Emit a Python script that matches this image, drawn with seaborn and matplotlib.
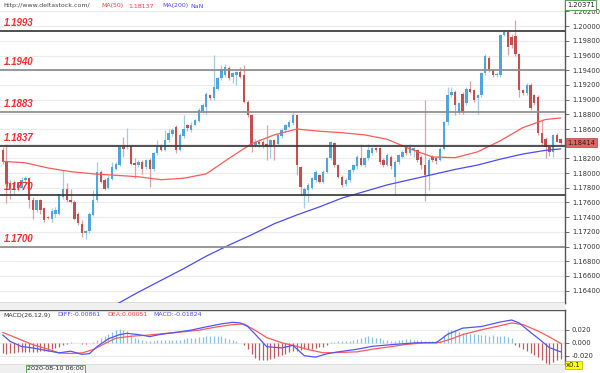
import matplotlib
matplotlib.use("Agg")
import matplotlib.pyplot as plt
import matplotlib.transforms as mtransforms
from matplotlib.patches import Rectangle
import numpy as np
import pandas as pd
import seaborn as sns

# ---------------- data ----------------
opens = [1.1831, 1.1815, 1.1786, 1.1779, 1.1786, 1.1780, 1.1791, 1.1794, 1.1763, 1.1750,
         1.1763, 1.1752, 1.1740, 1.1738, 1.1744, 1.1745, 1.1768, 1.1778, 1.1764, 1.1761,
         1.1745, 1.1731, 1.1718, 1.1721, 1.1743, 1.1763, 1.1802, 1.1791, 1.1780, 1.1792,
         1.1806, 1.1811, 1.1836, 1.1835, 1.1837, 1.1814, 1.1811, 1.1815, 1.1808, 1.1818,
         1.1806, 1.1827, 1.1837, 1.1832, 1.1845, 1.1853, 1.1863, 1.1832, 1.1850, 1.1865,
         1.1858, 1.1866, 1.1871, 1.1884, 1.1890, 1.1906, 1.1902, 1.1915, 1.1929, 1.1933,
         1.1943, 1.1931, 1.1933, 1.1938, 1.1933, 1.1897, 1.1879, 1.1838, 1.1843, 1.1842,
         1.1840, 1.1836, 1.1845, 1.1839, 1.1850, 1.1858, 1.1863, 1.1868, 1.1879, 1.1808,
         1.1770, 1.1777, 1.1780, 1.1790, 1.1797, 1.1788, 1.1802, 1.1820, 1.1841, 1.1811,
         1.1795, 1.1785, 1.1790, 1.1804, 1.1809, 1.1821, 1.1811, 1.1820, 1.1827, 1.1834,
         1.1834, 1.1818, 1.1811, 1.1822, 1.1795, 1.1815, 1.1822, 1.1836, 1.1827, 1.1832,
         1.1831, 1.1822, 1.1811, 1.1797, 1.1822, 1.1820, 1.1818, 1.1833, 1.1869, 1.1906,
         1.1911, 1.1882, 1.1908, 1.1895, 1.1915, 1.1913, 1.1902, 1.1906, 1.1936, 1.1957,
         1.1940, 1.1933, 1.1933, 1.1988, 1.1992, 1.1985, 1.1986, 1.1962, 1.1913, 1.1909,
         1.1920, 1.1906, 1.1904, 1.1854, 1.1847, 1.1836, 1.1829, 1.1852, 1.1846]
highs = [1.1836, 1.1840, 1.1790, 1.1790, 1.1788, 1.1795, 1.1796, 1.1795, 1.1768, 1.1764,
         1.1765, 1.1754, 1.1742, 1.1752, 1.1754, 1.1772, 1.1804, 1.1786, 1.1779, 1.1763,
         1.1747, 1.1736, 1.1722, 1.1747, 1.1777, 1.1815, 1.1804, 1.1793, 1.1797, 1.1815,
         1.1815, 1.1838, 1.1849, 1.1861, 1.1838, 1.1820, 1.1818, 1.1818, 1.1819, 1.1820,
         1.1829, 1.1845, 1.1839, 1.1858, 1.1860, 1.1861, 1.1865, 1.1855, 1.1879, 1.1867,
         1.1869, 1.1874, 1.1888, 1.1895, 1.1910, 1.1908, 1.1961, 1.1931, 1.1947, 1.1949,
         1.1946, 1.1938, 1.1939, 1.1945, 1.1947, 1.1899, 1.1881, 1.1847, 1.1846, 1.1845,
         1.1865, 1.1847, 1.1847, 1.1854, 1.1861, 1.1867, 1.1872, 1.1884, 1.1881, 1.1810,
         1.1781, 1.1786, 1.1795, 1.1804, 1.1799, 1.1804, 1.1822, 1.1844, 1.1843, 1.1813,
         1.1797, 1.1793, 1.1806, 1.1813, 1.1824, 1.1840, 1.1822, 1.1840, 1.1836, 1.1836,
         1.1836, 1.1820, 1.1827, 1.1824, 1.1818, 1.1826, 1.1831, 1.1838, 1.1840, 1.1836,
         1.1833, 1.1824, 1.1899, 1.1820, 1.1824, 1.1822, 1.1836, 1.1871, 1.1917, 1.1917,
         1.1913, 1.1897, 1.1910, 1.1917, 1.1926, 1.1915, 1.1908, 1.1938, 1.1962, 1.1959,
         1.1942, 1.1937, 1.1989, 1.1995, 1.1995, 1.1990, 1.2009, 1.1964, 1.1915, 1.1922,
         1.1922, 1.1908, 1.1906, 1.1874, 1.1849, 1.1838, 1.1853, 1.1854, 1.1848]
lows = [1.1813, 1.1759, 1.1765, 1.1770, 1.1775, 1.1777, 1.1786, 1.1752, 1.1738, 1.1747,
        1.1745, 1.1734, 1.1738, 1.1733, 1.1740, 1.1743, 1.1765, 1.1761, 1.1759, 1.1736,
        1.1729, 1.1713, 1.1710, 1.1719, 1.1741, 1.1761, 1.1786, 1.1777, 1.1778, 1.1790,
        1.1804, 1.1809, 1.1822, 1.1833, 1.1811, 1.1793, 1.1808, 1.1799, 1.1806, 1.1781,
        1.1803, 1.1824, 1.1830, 1.1830, 1.1843, 1.1851, 1.1827, 1.1830, 1.1848, 1.1857,
        1.1856, 1.1865, 1.1869, 1.1882, 1.1881, 1.1900, 1.1900, 1.1913, 1.1927, 1.1931,
        1.1927, 1.1922, 1.1920, 1.1929, 1.1895, 1.1876, 1.1829, 1.1835, 1.1836, 1.1834,
        1.1818, 1.1820, 1.1818, 1.1837, 1.1848, 1.1856, 1.1861, 1.1866, 1.1797, 1.1770,
        1.1752, 1.1761, 1.1778, 1.1788, 1.1786, 1.1786, 1.1800, 1.1818, 1.1808, 1.1793,
        1.1781, 1.1783, 1.1788, 1.1802, 1.1806, 1.1809, 1.1808, 1.1818, 1.1825, 1.1829,
        1.1813, 1.1808, 1.1809, 1.1806, 1.1770, 1.1813, 1.1820, 1.1825, 1.1825, 1.1822,
        1.1815, 1.1805, 1.1762, 1.1777, 1.1815, 1.1812, 1.1816, 1.1831, 1.1866, 1.1904,
        1.1879, 1.1880, 1.1881, 1.1893, 1.1909, 1.1897, 1.1881, 1.1904, 1.1934, 1.1938,
        1.1931, 1.1931, 1.1931, 1.1986, 1.1961, 1.1970, 1.1960, 1.1904, 1.1906, 1.1906,
        1.1886, 1.1893, 1.1852, 1.1838, 1.1820, 1.1823, 1.1822, 1.1842, 1.1838]
closes = [1.1815, 1.1786, 1.1779, 1.1786, 1.1780, 1.1791, 1.1794, 1.1763, 1.1750, 1.1763,
          1.1750, 1.1736, 1.1739, 1.1749, 1.1750, 1.1770, 1.1778, 1.1763, 1.1761, 1.1738,
          1.1732, 1.1718, 1.1721, 1.1745, 1.1764, 1.1802, 1.1788, 1.1779, 1.1793, 1.1808,
          1.1813, 1.1836, 1.1833, 1.1837, 1.1813, 1.1811, 1.1815, 1.1806, 1.1818, 1.1806,
          1.1827, 1.1836, 1.1832, 1.1845, 1.1854, 1.1858, 1.1831, 1.1852, 1.1860, 1.1861,
          1.1866, 1.1872, 1.1886, 1.1893, 1.1908, 1.1902, 1.1917, 1.1929, 1.1942, 1.1945,
          1.1929, 1.1936, 1.1938, 1.1931, 1.1897, 1.1879, 1.1838, 1.1843, 1.1839, 1.1838,
          1.1836, 1.1845, 1.1838, 1.1852, 1.1859, 1.1865, 1.1870, 1.1879, 1.1811, 1.1781,
          1.1779, 1.1784, 1.1793, 1.1802, 1.1788, 1.1802, 1.1820, 1.1843, 1.1811, 1.1795,
          1.1784, 1.1791, 1.1804, 1.1811, 1.1822, 1.1811, 1.1820, 1.1831, 1.1834, 1.1831,
          1.1815, 1.1811, 1.1824, 1.1809, 1.1815, 1.1824, 1.1829, 1.1827, 1.1836, 1.1834,
          1.1818, 1.1811, 1.1797, 1.1818, 1.1818, 1.1816, 1.1833, 1.1869, 1.1906, 1.1911,
          1.1893, 1.1895, 1.1883, 1.1915, 1.1911, 1.1899, 1.1906, 1.1936, 1.1960, 1.1940,
          1.1933, 1.1935, 1.1988, 1.1992, 1.1971, 1.1975, 1.1962, 1.1913, 1.1909, 1.1920,
          1.1888, 1.1895, 1.1854, 1.1841, 1.1836, 1.1829, 1.1852, 1.1843, 1.18414]

ma50_idx = [0, 6, 12, 18, 24, 30, 36, 42, 48, 54, 60, 66, 72, 78, 84, 90, 96, 102, 108,
            114, 120, 126, 132, 138, 144, 148]
ma50 = [1.1816, 1.1814, 1.1807, 1.1802, 1.1799, 1.1797, 1.1795, 1.1791, 1.1793, 1.1799,
        1.1820, 1.1840, 1.1852, 1.1860, 1.1857, 1.1855, 1.1852, 1.1846, 1.1833, 1.1822,
        1.1821, 1.1829, 1.1844, 1.1862, 1.1873, 1.1875]
ma200_idx = [30, 36, 42, 48, 54, 60, 66, 72, 78, 84, 90, 96, 102, 108, 114, 120, 126, 132,
             138, 144, 148]
ma200 = [1.1621, 1.1638, 1.1654, 1.1670, 1.1687, 1.1702, 1.1716, 1.1731, 1.1743, 1.1754,
         1.1766, 1.1775, 1.1784, 1.1791, 1.1798, 1.1805, 1.1811, 1.1819, 1.1826, 1.1831,
         1.1833]

levels = [1.1993, 1.1940, 1.1883, 1.1837, 1.1770, 1.1700]
level_labels = ["1.1993", "1.1940", "1.1883", "1.1837", "1.1770", "1.1700"]

diff_idx = [0, 2, 5, 8, 12, 15, 18, 21, 23, 25, 28, 31, 33, 36, 39, 42, 46, 50, 54, 58, 61,
            63, 65, 67, 70, 74, 77, 80, 83, 86, 89, 94, 98, 104, 110, 115, 118, 122, 127,
            132, 135, 137, 140, 142, 145, 148]
diff = [0.0120, 0.0020, -0.0058, -0.0080, -0.0125, -0.0155, -0.0130, -0.0178, -0.0168,
        -0.0060, 0.0060, 0.0125, 0.0145, 0.0125, 0.0095, 0.0130, 0.0160, 0.0195, 0.0245,
        0.0290, 0.0315, 0.0305, 0.0250, 0.0130, -0.0060, -0.0080, -0.0040, -0.0200, -0.0222,
        -0.0170, -0.0140, -0.0100, -0.0055, -0.0025, 0.0000, 0.0000, 0.0130, 0.0225, 0.0250,
        0.0320, 0.0350, 0.0305, 0.0160, 0.0070, -0.0075, -0.0140]
dea_idx = [0, 4, 8, 12, 15, 18, 21, 24, 27, 30, 34, 39, 44, 48, 52, 57, 61, 64, 67, 70, 74,
           78, 81, 85, 89, 94, 98, 103, 107, 112, 116, 119, 122, 127, 131, 135, 138, 142,
           145, 148]
dea = [0.0160, 0.0065, -0.0030, -0.0100, -0.0158, -0.0165, -0.0157, -0.0105, -0.0015,
       0.0070, 0.0100, 0.0120, 0.0148, 0.0170, 0.0193, 0.0246, 0.0280, 0.0290, 0.0190,
       0.0080, 0.0000, -0.0055, -0.0105, -0.0155, -0.0150, -0.0140, -0.0100, -0.0060,
       -0.0025, 0.0000, 0.0005, 0.0060, 0.0125, 0.0200, 0.0250, 0.0305, 0.0280, 0.0180,
       0.0090, -0.0010]
macd_hist = [-0.016, -0.017, -0.016, -0.016, -0.015, -0.015, -0.014, -0.015, -0.015, -0.014,
             -0.013, -0.013, -0.012, -0.010, -0.008, -0.006,
             -0.004, -0.002, 0.001, 0.000, -0.001, -0.002, -0.002, -0.001, 0.001,
             0.004, 0.007, 0.010, 0.013, 0.016, 0.019, 0.021, 0.020, 0.018, 0.012, 0.008,
             0.006, 0.004, 0.003, 0.002,
             0.003, 0.004, 0.004, 0.005, 0.005, 0.004, 0.004, 0.005, 0.006, 0.007,
             0.008, 0.008, 0.009, 0.009, 0.010, 0.010, 0.011, 0.011, 0.010, 0.008, 0.006,
             0.004, 0.002, 0.000, -0.004, -0.010,
             -0.018, -0.024, -0.027, -0.027, -0.026, -0.025, -0.023, -0.021, -0.019, -0.017,
             -0.015, -0.013, -0.012, -0.011, -0.010, -0.010, -0.009, -0.008, -0.007, -0.006,
             -0.004,
             0.001, 0.001, 0.002, 0.002, 0.003, 0.002, 0.004, 0.006, 0.008,
             0.009, 0.010, 0.009, 0.008, 0.007, 0.005, 0.004, 0.003,
             0.003, 0.004, 0.005, 0.006, 0.006, 0.005, 0.004, 0.004, 0.003, 0.002, 0.002,
             0.002, 0.003,
             0.012, 0.018, 0.020, 0.019, 0.017, 0.015, 0.015, 0.014, 0.013, 0.013, 0.012,
             0.012, 0.011, 0.012, 0.011, 0.010, 0.010, 0.009, 0.007,
             -0.004, -0.006, -0.010, -0.013, -0.016, -0.019, -0.022, -0.026, -0.031, -0.032,
             -0.029, -0.027, -0.025]

price_ticks = [1.164, 1.166, 1.168, 1.170, 1.172, 1.174, 1.176, 1.178, 1.180, 1.182,
               1.184, 1.186, 1.188, 1.190, 1.192, 1.194, 1.196, 1.198, 1.200, 1.202]
macd_ticks = [-0.02, 0.0, 0.02]
last_price_label = "1.18414"
top_price_label = "1.20371"

# ---------------- styling ----------------
sns.set_style("white")
plt.rcParams['font.family'] = ['DejaVu Sans']

W, H = 600, 373
fig = plt.figure(figsize=(6.0, 3.73), dpi=100)
fig.patch.set_facecolor("white")

def fy(px):  # pixel row -> figure fraction
    return 1 - px / H

right_px = 565
axw = right_px / W
main_top, main_bot = 0, 303.3
macd_top, macd_bot = 309.5, 364.5

ax = fig.add_axes([0, fy(main_bot), axw, (main_bot - main_top) / H])
axm = fig.add_axes([0, fy(macd_bot), axw, (macd_bot - macd_top) / H])

df = pd.DataFrame({"o": opens, "h": highs, "l": lows, "c": closes})
df["i"] = np.arange(len(df))
up = df["c"] >= df["o"]

UP_BODY, UP_WICK = "#4ea6dc", "#9fcdea"
DN_BODY, DN_WICK = "#c4504e", "#e2a2a2"

# grid
for t in price_ticks:
    ax.axhline(t, color="#ebebeb", lw=0.8, zorder=0)

# candles
ax.vlines(df["i"], df["l"], df["h"], colors=np.where(up, UP_WICK, DN_WICK), lw=0.9, zorder=2)
body = (df["c"] - df["o"]).abs().clip(lower=0.00004)
bottom = df[["o", "c"]].min(axis=1)
ax.bar(df["i"], body, bottom=bottom, width=0.64,
       color=np.where(up, UP_BODY, DN_BODY), linewidth=0, zorder=3)

# moving averages
sns.lineplot(x=ma50_idx, y=ma50, ax=ax, color="#ff5a5a", lw=0.9, zorder=4)
sns.lineplot(x=ma200_idx, y=ma200, ax=ax, color="#4b4bff", lw=0.9, zorder=4)

# levels
trans = mtransforms.blended_transform_factory(ax.transAxes, ax.transData)
lvl_colors = ["#3a3a3a", "#8c8c8c", "#8c8c8c", "#3a3a3a", "#3a3a3a", "#8c8c8c"]
for lv, lab, c in zip(levels, level_labels, lvl_colors):
    ax.axhline(lv, color=c, lw=1.25, zorder=5)
    ax.annotate(lab, xy=(0.006, lv), xycoords=trans, xytext=(0, 2.2),
                textcoords="offset points", va="bottom", ha="left",
                color="#ff2a2a", fontsize=7, fontweight="bold", fontstyle="italic",
                family="Liberation Sans", zorder=6)

ax.set_xlim(-0.72, 149.15)
ax.set_ylim(1.16228, 1.20356)
ax.yaxis.tick_right()
ax.set_yticks(price_ticks)
# the 1.18400 label is covered by the current-price box in the reference
ax.set_yticklabels(["" if abs(t - 1.184) < 1e-9 else f"{t:.5f}" for t in price_ticks])
ax.tick_params(axis="y", length=3, width=0.6, color="#555555", labelsize=4.9,
               labelcolor="#333333", pad=2)
ax.set_xticks([])
for s in ["left", "top"]:
    ax.spines[s].set_visible(False)
for s in ["right", "bottom"]:
    ax.spines[s].set_color("#555555")
    ax.spines[s].set_linewidth(1.0)

# header texts
hy = 1 - 6 / (main_bot - main_top)
ax.text(3 / right_px, hy, "http://www.deltastock.com/", transform=ax.transAxes,
        fontsize=4.5, color="#444444", va="center")
ax.text(101 / right_px, hy, "MA(50)", transform=ax.transAxes, fontsize=4.5,
        color="#ff3b3b", va="center")
ax.text(128 / right_px, hy, "1.18137", transform=ax.transAxes, fontsize=4.5,
        color="#ff3b3b", va="center")
ax.text(162 / right_px, hy, "MA(200)", transform=ax.transAxes, fontsize=4.5,
        color="#4b4bff", va="center")
ax.text(190 / right_px, hy, "NaN", transform=ax.transAxes, fontsize=4.5,
        color="#4b4bff", va="center")

# current price box
ax.text(1.004, closes[-1], last_price_label, transform=trans, fontsize=4.9,
        color="#222222", va="center", ha="left", clip_on=False, zorder=10,
        bbox=dict(boxstyle="square,pad=0.25", fc="#e06464", ec="#b84040", lw=0.5))
# top label
fig.text(567 / W, fy(5), top_price_label, fontsize=4.9, color="#222222", va="center",
         ha="left", bbox=dict(boxstyle="square,pad=0.25", fc="white", ec="#3c9a3c", lw=0.6))

# ---------------- MACD panel ----------------
for t in macd_ticks:
    axm.axhline(t, color="#ebebeb", lw=0.8, zorder=0)
hist = np.array(macd_hist)
axm.vlines(np.arange(len(hist)), 0, hist,
           colors=np.where(hist >= 0, "#86c3e6", "#c45a5a"), lw=0.9, zorder=2)
sns.lineplot(x=dea_idx, y=dea, ax=axm, color="#ff5a5a", lw=0.9, zorder=3)
sns.lineplot(x=diff_idx, y=diff, ax=axm, color="#5454ff", lw=0.9, zorder=4)
axm.set_xlim(-0.72, 149.15)
axm.set_ylim(-0.0335, 0.0512)
axm.yaxis.tick_right()
axm.set_yticks(macd_ticks)
axm.set_yticklabels([f"{t:.3f}" for t in macd_ticks])
axm.tick_params(axis="y", length=3, width=0.6, color="#555555", labelsize=4.9,
                labelcolor="#333333", pad=2)
axm.set_xticks([])
axm.spines["left"].set_visible(False)
for s in ["right", "bottom", "top"]:
    axm.spines[s].set_color("#555555")
    axm.spines[s].set_linewidth(1.0)

my = 1 - (315 - macd_top) / (macd_bot - macd_top)
axm.text(3 / right_px, my, "MACD(26,12,9)", transform=axm.transAxes, fontsize=4.5,
         color="#333333", va="center")
axm.text(57 / right_px, my, "DIFF:-0.00861", transform=axm.transAxes, fontsize=4.5,
         color="#4b4bff", va="center")
axm.text(107 / right_px, my, "DEA:0.00051", transform=axm.transAxes, fontsize=4.5,
         color="#ff3b3b", va="center")
axm.text(153 / right_px, my, "MACD:-0.01824", transform=axm.transAxes, fontsize=4.5,
         color="#4b4bff", va="center")

# separator band and bottom strip
fig.patches.append(Rectangle((0, fy(macd_top)), axw, (macd_top - main_bot) / H,
                             transform=fig.transFigure, fc="#f0f0f0", ec="none", zorder=0))
fig.patches.append(Rectangle((0, 0), axw, (H - macd_bot) / H,
                             transform=fig.transFigure, fc="#efefef", ec="none", zorder=0))
fig.text(27 / W, fy(368.8), "2020-08-10 06:00", fontsize=4.6, color="#222222",
         va="center", ha="left",
         bbox=dict(boxstyle="square,pad=0.2", fc="#f4f4f4", ec="#3c9a3c", lw=0.6))
fig.text(566 / W, fy(365), "x0.1", fontsize=4.9, color="#222222", va="center", ha="left",
         bbox=dict(boxstyle="square,pad=0.15", fc="#ffff00", ec="#999900", lw=0.4))

fig.savefig("out.png", dpi=100, facecolor="white")
